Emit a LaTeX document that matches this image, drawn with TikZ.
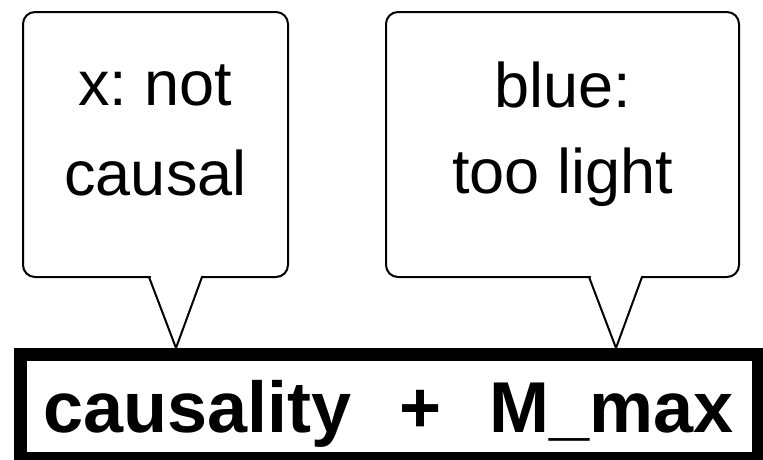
\documentclass[tikz,border=0pt]{standalone}
\usepackage{fontspec}
\setmainfont{Liberation Sans}
\frenchspacing
\begin{document}
\begin{tikzpicture}[x=1pt,y=-1pt,
  callout/.style={draw, line width=2pt, rounded corners=12pt, minimum height=265pt, inner sep=0pt},
  frame/.style={draw, line width=13pt, inner sep=0pt},
  calltext/.style={anchor=base, inner sep=0pt, font=\fontsize{63}{63}\selectfont},
  maintext/.style={anchor=base, inner sep=0pt, font=\fontsize{72}{72}\selectfont\bfseries},
  pointer/.style={line width=2pt, line join=miter},
  gap/.style={fill=white}]
\useasboundingbox (0,0) rectangle (763,459);
% callouts
\node[callout, minimum width=265pt] (c1) at (155.5,144.5) {};
\node[callout, minimum width=353pt] (c2) at (562.5,144.5) {};
% main frame
\node[frame, minimum width=737.5pt, minimum height=104pt] (main) at (389.25,406.5) {};
% pointers
\coordinate (a1) at (149,277);
\coordinate (b1) at (202,277);
\coordinate (t1) at (176,348);
\coordinate (a2) at (589,277);
\coordinate (b2) at (642,277);
\coordinate (t2) at (616,348);
\fill[gap] (150.5,275.5) rectangle (200.5,279);
\fill[gap] (590.5,275.5) rectangle (640.5,279);
\draw[pointer] (a1) -- (t1) -- (b1);
\draw[pointer] (a2) -- (t2) -- (b2);
% texts
\node[calltext] (x1) at (155.5,105) {x: not};
\node[calltext] (x2) at (155.5,195) {causal};
\node[calltext] (y1) at (562.5,107) {blue:};
\node[calltext] (y2) at (562.5,193) {too light};
\node[maintext] (m) at (388.5,432) {causality\hspace{48pt}+\hspace{48pt}M\_max};
\end{tikzpicture}
\end{document}
